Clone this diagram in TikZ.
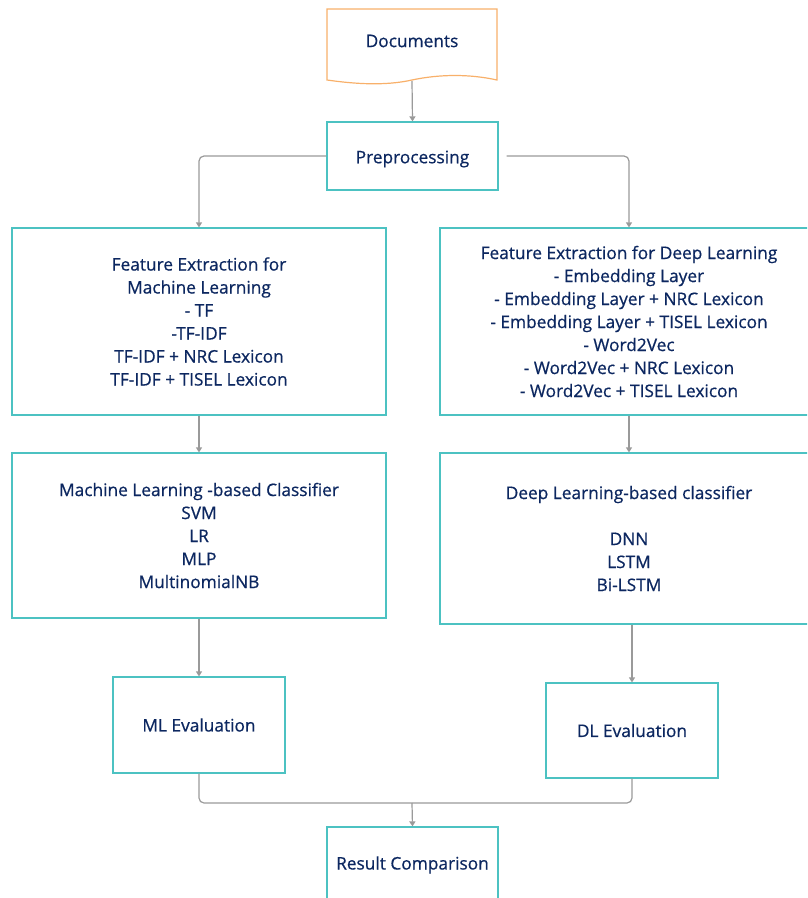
\documentclass[tikz,border=0pt]{standalone}
\usepackage{fontspec}
\setmainfont{Open Sans}
\newfontface\diagfont{Open Sans}[FakeBold=0.6]
\usetikzlibrary{arrows.meta}
\definecolor{txt}{HTML}{0C2760}
\definecolor{teal}{HTML}{4CC2C2}
\definecolor{orng}{HTML}{F8B06A}
\definecolor{conn}{HTML}{9A9A9A}
\tikzset{
  box/.style={draw=teal, line width=1.2pt, fill=white, text=txt, align=center,
    font=\diagfont\fontsize{17.3}{23}\selectfont, inner sep=0pt},
  wire/.style={draw=conn, line width=1.2pt, rounded corners=5pt},
  arr/.style={wire, -{Triangle[width=6pt,length=5pt]}}
}
\begin{document}
\begin{tikzpicture}[x=1pt,y=-1pt]
\useasboundingbox (0,0) rectangle (807,898);
\clip (0,0) rectangle (807,898);
% Documents
\draw[orng, line width=1.2pt, fill=white] (327,9) -- (497,9) -- (497,80)
  .. controls (470,74) and (440,74) .. (412,80)
  .. controls (385,86) and (355,84) .. (327,80) -- cycle;
\node[box, draw=none, fill=none, minimum width=170pt, minimum height=40pt] (doc) at (412,41) {Documents};
\coordinate (docb) at (412,81);
\node[box, minimum width=171pt, minimum height=68pt] (pre) at (412.5,156) {\raisebox{-3pt}[\height][\depth]{Preprocessing}};
\node[box, minimum width=374pt, minimum height=187pt] (feml) at (199,321.5)
  {Feature Extraction for\\ Machine Learning\\- TF\\-TF-IDF\\TF-IDF + NRC Lexicon\\TF-IDF + TISEL Lexicon};
\node[box, minimum width=378pt, minimum height=187pt] (fedl) at (629,321.5)
  {Feature Extraction for Deep Learning\\- Embedding Layer\\- Embedding Layer + NRC Lexicon\\- Embedding Layer + TISEL Lexicon\\- Word2Vec\\- Word2Vec + NRC Lexicon\\- Word2Vec + TISEL Lexicon};
\node[box, minimum width=374pt, minimum height=165pt] (mlc) at (199,535.5)
  {Machine Learning -based Classifier\\SVM\\LR\\MLP\\MultinomialNB};
\node[box, minimum width=378pt, minimum height=171pt] (dlc) at (629,538.5)
  {Deep Learning-based classifier\\[23pt]DNN\\LSTM\\Bi-LSTM};
\node[box, minimum width=172pt, minimum height=96pt] (mle) at (199,725) {ML Evaluation};
\node[box, minimum width=172pt, minimum height=95pt] (dle) at (632,730.5) {DL Evaluation};
\node[box, minimum width=171pt, minimum height=76pt] (res) at (412.5,865) {Result Comparison};
\coordinate (merge) at (412,803);
% connectors
\draw[arr] (docb) -- (pre.north);
\draw[arr] (pre.west) -| (feml.north);
\draw[arr] ([xshift=8pt]pre.east) -| (fedl.north);
\draw[arr] (feml.south) -- (mlc.north);
\draw[arr] (fedl.south) -- (dlc.north);
\draw[arr] (mlc.south) -- (mle.north);
\draw[arr] (dle.north |- dlc.south) -- (dle.north);
\draw[wire] (mle.south) |- (merge);
\draw[wire] (dle.south) |- (merge);
\draw[arr] (merge) -- (res.north);
\end{tikzpicture}
\end{document}
